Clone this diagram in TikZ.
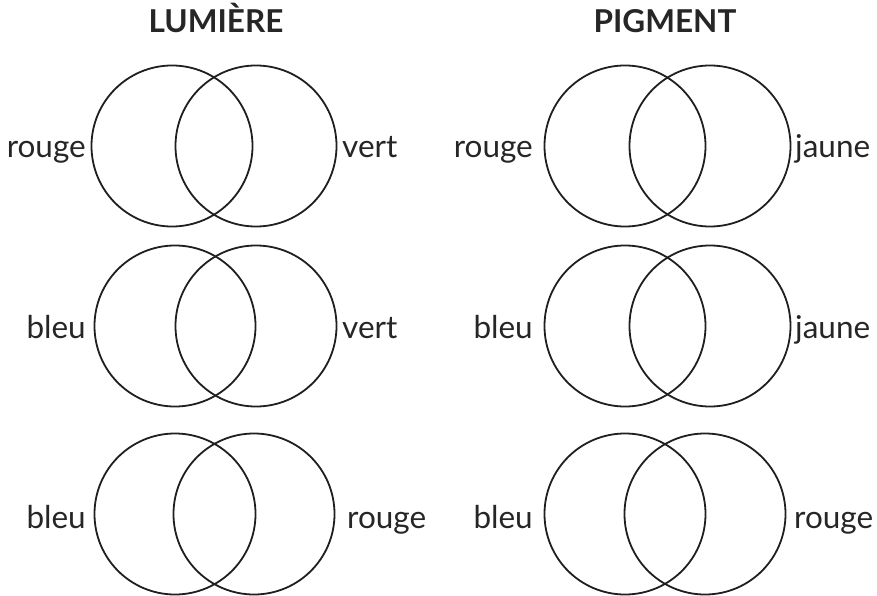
\documentclass[tikz,border=0pt]{standalone}
\usepackage{fontspec}
\setmainfont{Lato}
\begin{document}
\begin{tikzpicture}[x=1pt,y=-1pt,
  ring/.style={circle,draw=black!88,line width=1.8pt,minimum size=161pt,inner sep=0pt,outer sep=0pt},
  lab/.style={inner sep=0pt,font=\fontsize{31.5}{36}\selectfont,text=black!85},
  ttl/.style={inner sep=0pt,anchor=base,font=\fontsize{31.5}{36}\selectfont\bfseries,text=black!85}]
\useasboundingbox (0,0) rectangle (877,596);
% titles
\node[ttl] (t1) at (216,33) {LUMIÈRE};
\node[ttl] (t2) at (665,33) {PIGMENT};
% left column
\node[ring] (a1) at (172,146) {};
\node[ring] (b1) at (256,146) {};
\node[ring] (a2) at (175,326) {};
\node[ring] (b2) at (256,326) {};
\node[ring] (a3) at (175,514) {};
\node[ring] (b3) at (254,514) {};
% right column
\node[ring] (c1) at (625,146) {};
\node[ring] (d1) at (710,146) {};
\node[ring] (c2) at (625,326) {};
\node[ring] (d2) at (710,326) {};
\node[ring] (c3) at (625,514) {};
\node[ring] (d3) at (705,514) {};
% labels left column
\node[lab,anchor=base east] (la1) at (86,158) {rouge};
\node[lab,anchor=base west] (lb1) at (342,158) {vert};
\node[lab,anchor=base east] (la2) at (86,338) {bleu};
\node[lab,anchor=base west] (lb2) at (342,338) {vert};
\node[lab,anchor=base east] (la3) at (86,528) {bleu};
\node[lab,anchor=base west] (lb3) at (347,528) {rouge};
% labels right column
\node[lab,anchor=base east] (lc1) at (533,158) {rouge};
\node[lab,anchor=base west] (ld1) at (795,158) {jaune};
\node[lab,anchor=base east] (lc2) at (533,338) {bleu};
\node[lab,anchor=base west] (ld2) at (795,338) {jaune};
\node[lab,anchor=base east] (lc3) at (533,528) {bleu};
\node[lab,anchor=base west] (ld3) at (794,528) {rouge};
\end{tikzpicture}
\end{document}
